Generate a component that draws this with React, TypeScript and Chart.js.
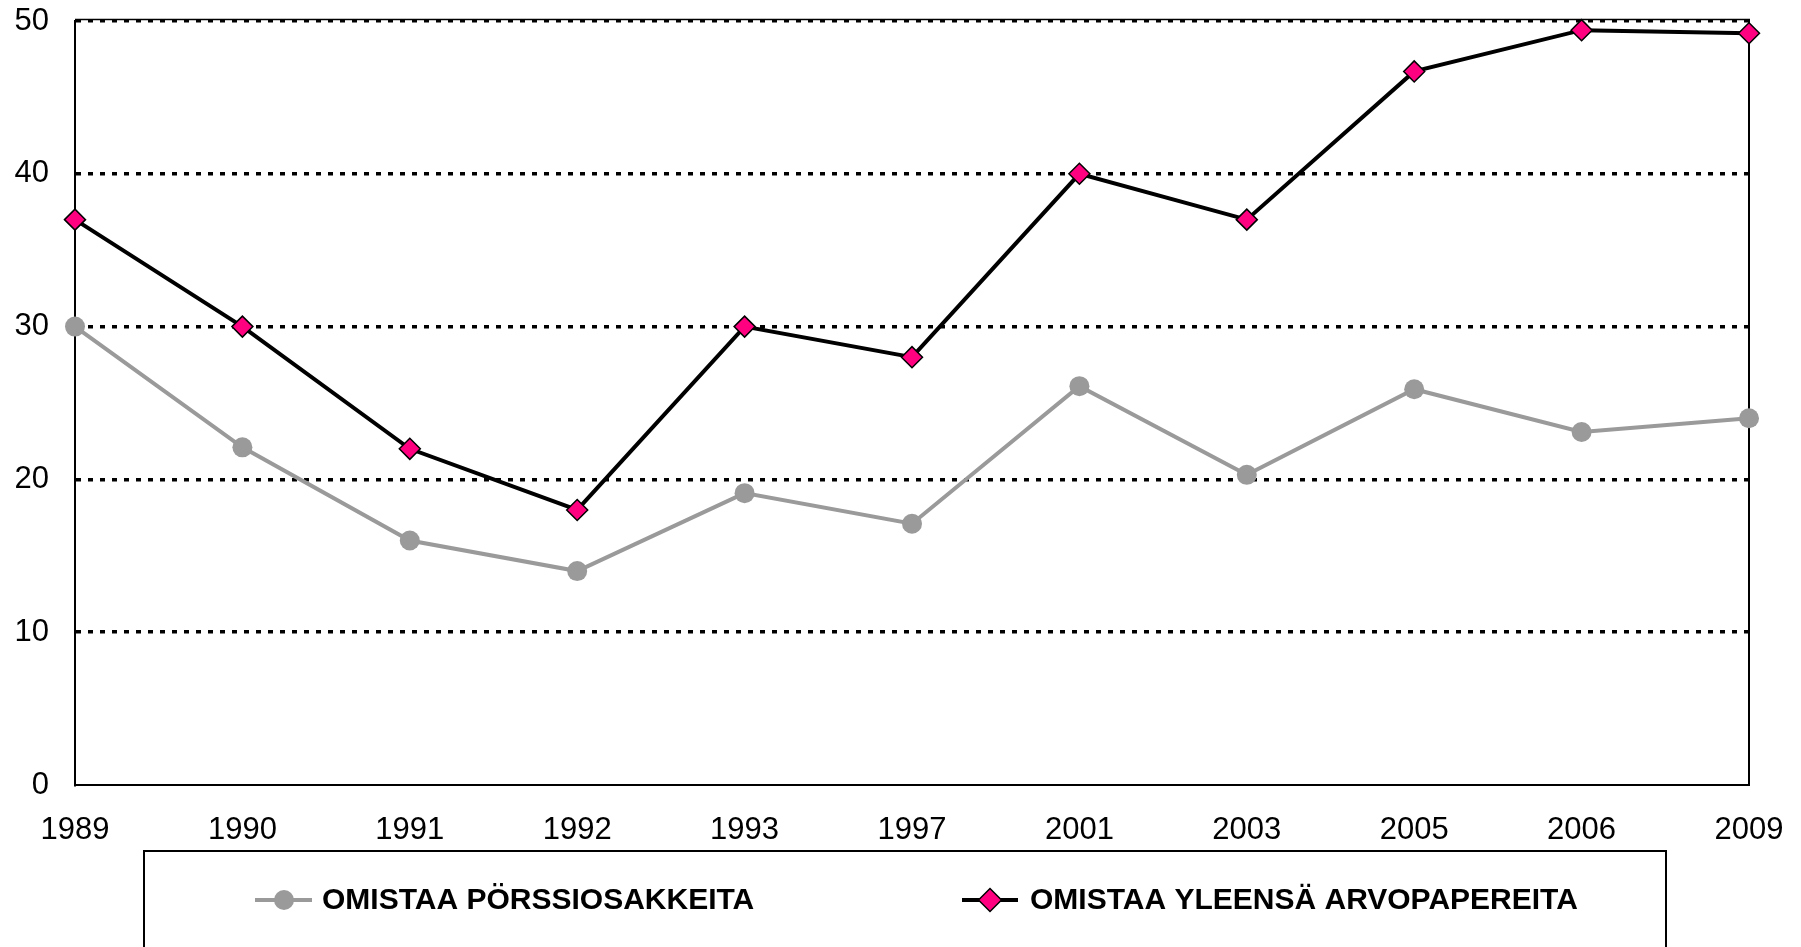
import React, { useEffect, useRef } from 'react';
import { Chart, registerables } from 'chart.js';

Chart.register(...registerables);

const years = ['1989', '1990', '1991', '1992', '1993', '1997', '2001', '2003', '2005', '2006', '2009'];
const porssiosakkeita = [30, 22.1, 16, 14, 19.1, 17.1, 26.1, 20.3, 25.9, 23.1, 24];
const arvopapereita = [37, 30, 22, 18, 30, 28, 40, 37, 46.7, 49.4, 49.2];
const seriesNames = ['OMISTAA PÖRSSIOSAKKEITA', 'OMISTAA YLEENSÄ ARVOPAPEREITA'];
const yTicks = [0, 10, 20, 30, 40, 50];

const FONT = '"Liberation Sans", Arial, sans-serif';
const GREY = '#9a9a9a';
const PINK = '#FF0080';

const framePlugin = {
  id: 'frame',
  beforeDatasetsDraw(chart: any) {
    const { ctx, chartArea: a } = chart;
    ctx.save();
    ctx.strokeStyle = '#000';
    ctx.setLineDash([]);
    ctx.lineWidth = 2;
    ctx.beginPath();
    ctx.moveTo(a.right, a.top - 2);
    ctx.lineTo(a.right, a.bottom + 1);
    ctx.stroke();
    ctx.lineWidth = 1.5;
    ctx.beginPath();
    ctx.moveTo(a.left, a.top - 1.5);
    ctx.lineTo(a.right + 1, a.top - 1.5);
    ctx.stroke();
    ctx.restore();
  },
};

const legendPlugin = {
  id: 'boxLegend',
  afterDraw(chart: any) {
    const { ctx } = chart;
    const ds = chart.data.datasets;
    ctx.save();
    ctx.strokeStyle = '#000';
    ctx.lineWidth = 2;
    ctx.strokeRect(144, 851, 1666 - 144, 140);
    const cy = 900;
    ctx.font = `bold 30px ${FONT}`;
    ctx.textBaseline = 'middle';
    ctx.textAlign = 'left';

    // item 1
    ctx.strokeStyle = ds[0].borderColor;
    ctx.lineWidth = 4;
    ctx.beginPath();
    ctx.moveTo(255, cy);
    ctx.lineTo(312, cy);
    ctx.stroke();
    ctx.fillStyle = ds[0].pointBackgroundColor;
    ctx.beginPath();
    ctx.arc(284, cy, 10, 0, Math.PI * 2);
    ctx.fill();
    ctx.fillStyle = '#000';
    ctx.fillText(ds[0].label, 322, cy + 1);

    // item 2
    ctx.strokeStyle = ds[1].borderColor;
    ctx.lineWidth = 4;
    ctx.beginPath();
    ctx.moveTo(962, cy);
    ctx.lineTo(1018, cy);
    ctx.stroke();
    ctx.fillStyle = ds[1].pointBackgroundColor;
    ctx.strokeStyle = '#000';
    ctx.lineWidth = 1.5;
    const dx = 990;
    const r = 11.5;
    ctx.beginPath();
    ctx.moveTo(dx - r, cy);
    ctx.lineTo(dx, cy - r);
    ctx.lineTo(dx + r, cy);
    ctx.lineTo(dx, cy + r);
    ctx.closePath();
    ctx.fill();
    ctx.stroke();
    ctx.fillStyle = '#000';
    ctx.fillText(ds[1].label, 1030, cy + 1);
    ctx.restore();
  },
};

export default function App() {
  const ref = useRef<HTMLCanvasElement>(null);
  useEffect(() => {
    document.body.style.margin = '0';
    document.body.style.overflow = 'hidden';
    const tickFont = { family: FONT, size: 31 };
    const chart = new Chart(ref.current as HTMLCanvasElement, {
      type: 'line',
      data: {
        labels: years,
        datasets: [
          {
            label: seriesNames[0],
            data: porssiosakkeita,
            borderColor: GREY,
            backgroundColor: GREY,
            borderWidth: 4,
            pointStyle: 'circle',
            pointRadius: 10,
            pointBackgroundColor: GREY,
            pointBorderColor: GREY,
            pointBorderWidth: 0,
            clip: false,
            tension: 0,
          } as any,
          {
            label: seriesNames[1],
            data: arvopapereita,
            borderColor: '#000',
            backgroundColor: PINK,
            borderWidth: 4,
            pointStyle: 'rectRot',
            pointRadius: 10.5,
            pointBackgroundColor: PINK,
            pointBorderColor: '#000',
            pointBorderWidth: 1.5,
            clip: false,
            tension: 0,
          } as any,
        ],
      },
      options: {
        responsive: false,
        animation: false,
        layout: { padding: { left: 0, right: 52, top: 21, bottom: 0 } },
        plugins: { legend: { display: false }, tooltip: { enabled: false } },
        scales: {
          x: {
            grid: { display: false, drawTicks: false },
            border: { display: true, color: '#000', width: 2 },
            ticks: { color: '#000', font: tickFont, padding: 27, maxRotation: 0, autoSkip: false },
            afterFit: (s: any) => {
              s.height = 162;
              s.paddingLeft = 0;
              s.paddingRight = 0;
            },
          },
          y: {
            min: 0,
            max: 50,
            afterBuildTicks: (s: any) => {
              s.ticks = yTicks.map((v) => ({ value: v }));
            },
            ticks: { color: '#000', font: tickFont, padding: 26 },
            grid: {
              color: (c: any) => (c.tick && c.tick.value === 0 ? 'rgba(0,0,0,0)' : '#000'),
              lineWidth: 3.5,
              drawTicks: false,
            },
            border: { display: true, color: '#000', width: 2, dash: [5, 7] },
            afterFit: (s: any) => {
              s.width = 75;
              s.paddingTop = 0;
              s.paddingBottom = 0;
            },
          },
        },
      } as any,
      plugins: [framePlugin, legendPlugin],
    });
    return () => chart.destroy();
  }, []);
  return <canvas ref={ref} width={1801} height={947} style={{ display: 'block' }} />;
}
